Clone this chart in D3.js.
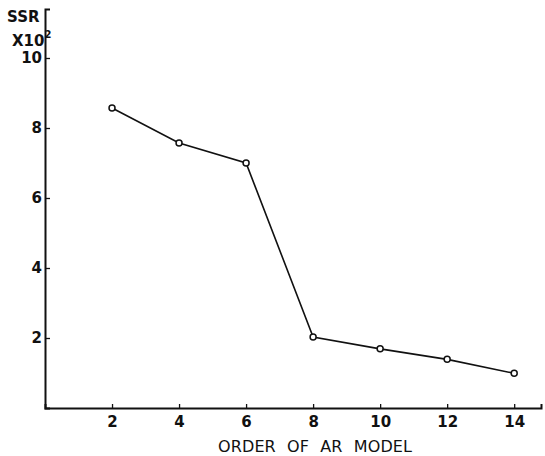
<!DOCTYPE html>
<html>
<head>
<meta charset="utf-8">
<script src="https://cdn.jsdelivr.net/npm/d3@7"></script>
<style>
  body { margin: 0; background: #fff; }
  svg text { font-family: "DejaVu Sans", sans-serif; fill: #111; }
</style>
</head>
<body>
<div id="plot"></div>
<script>
// AR model order vs sum of squared residuals (x 10^2)
var orders = [2, 4, 6, 8, 10, 12, 14];
var ssr = [8.57, 7.57, 7.0, 2.03, 1.69, 1.39, 0.99];
var xTicks = [2, 4, 6, 8, 10, 12, 14];
var yTicks = [2, 4, 6, 8, 10];

window.onload = function(){
    buildChart();
};

function buildChart(){

    var width = 545, height = 456;

    var xScale = d3.scaleLinear()
        .domain([0, 14.8])
        .range([45, 541]);

    var yScale = d3.scaleLinear()
        .domain([0, 11.4])
        .range([408, 9]);

    var svg = d3.select("#plot")
        .append("svg")
        .attr("width", width)
        .attr("height", height);

    var xAxis = svg.append("g")
        .attr("transform", "translate(0," + yScale(0) + ")")
        .call(d3.axisBottom(xScale)
            .tickValues(xTicks)
            .tickSize(-4)
            .tickPadding(8)
            .tickFormat(d3.format("d")));

    var yAxis = svg.append("g")
        .attr("transform", "translate(" + xScale(0) + ",0)")
        .call(d3.axisLeft(yScale)
            .tickValues(yTicks)
            .tickSize(-5)
            .tickPadding(3)
            .tickFormat(d3.format("d")));

    [xAxis, yAxis].forEach(ax => {
        ax.select(".domain").attr("stroke", "#111").attr("stroke-width", 2);
        ax.selectAll(".tick line").attr("stroke", "#111").attr("stroke-width", 1.3);
        ax.selectAll(".tick text")
            .style("font-size", "15px")
            .style("font-weight", "bold")
            .attr("fill", "#111");
    });

    // line through the points
    var line = d3.line()
        .x((d, i) => xScale(orders[i]))
        .y(d => yScale(d));

    svg.append("path")
        .datum(ssr)
        .attr("d", line)
        .attr("fill", "none")
        .attr("stroke", "#111")
        .attr("stroke-width", 1.6);

    svg.append("g")
        .selectAll("circle")
        .data(ssr)
        .enter()
        .append("circle")
        .attr("cx", (d, i) => xScale(orders[i]))
        .attr("cy", d => yScale(d))
        .attr("r", 3)
        .attr("fill", "#fff")
        .attr("stroke", "#111")
        .attr("stroke-width", 1.5);

    // axis titles
    svg.append("text")
        .attr("x", 7)
        .attr("y", 22)
        .style("font-size", "15px")
        .style("font-weight", "bold")
        .text("SSR");

    var unit = svg.append("text")
        .attr("x", 12)
        .attr("y", 46)
        .style("font-size", "15px")
        .style("font-weight", "bold");
    unit.append("tspan").text("X10");
    unit.append("tspan")
        .attr("dy", -8)
        .style("font-size", "10px")
        .text("2");

    svg.append("text")
        .attr("x", 218)
        .attr("y", 452)
        .attr("textLength", 194)
        .attr("lengthAdjust", "spacing")
        .style("font-size", "16px")
        .style("word-spacing", "6px")
        .text("ORDER OF AR MODEL");
}
</script>
</body>
</html>
